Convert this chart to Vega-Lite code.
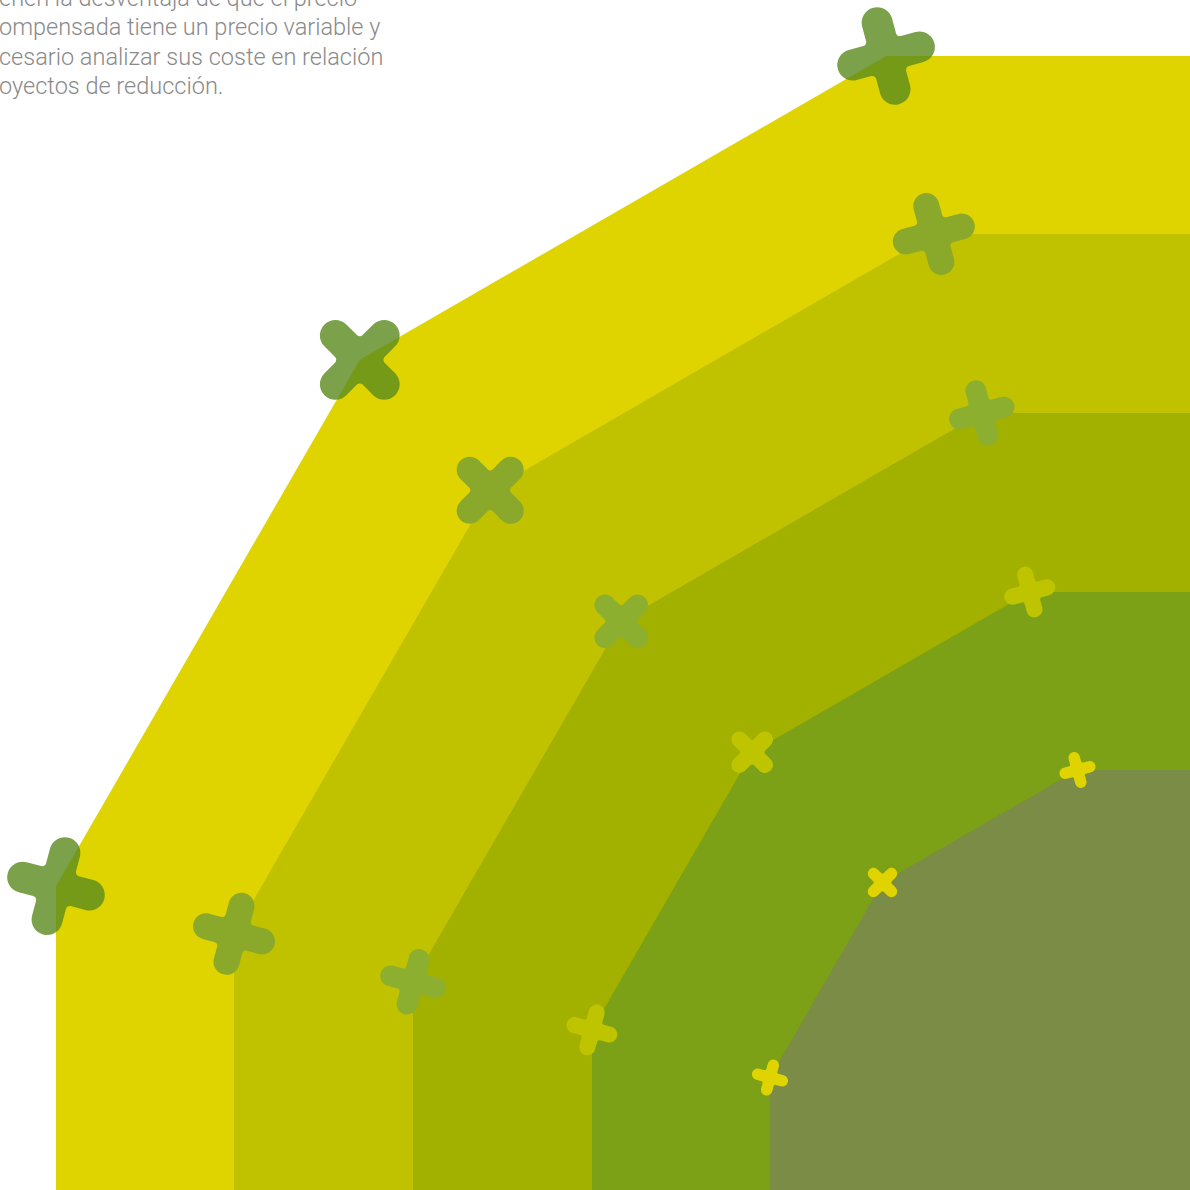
{
  "$schema": "https://vega.github.io/schema/vega-lite/v6.json",
  "width": 1190,
  "height": 1190,
  "autosize": "none",
  "padding": 0,
  "background": "#ffffff",
  "config": {"view": {"stroke": null}},
  "datasets": {
    "bands": [
      {"band": 1, "x": 56, "y": 886.1},
      {"band": 1, "x": 359.8, "y": 359.8},
      {"band": 1, "x": 886.1, "y": 56},
      {"band": 1, "x": 1190, "y": 56},
      {"band": 2, "x": 234, "y": 933.8},
      {"band": 2, "x": 490.2, "y": 490.2},
      {"band": 2, "x": 933.8, "y": 234},
      {"band": 2, "x": 1190, "y": 234},
      {"band": 3, "x": 413, "y": 981.8},
      {"band": 3, "x": 621.2, "y": 621.2},
      {"band": 3, "x": 981.8, "y": 413},
      {"band": 3, "x": 1190, "y": 413},
      {"band": 4, "x": 592, "y": 1029.8},
      {"band": 4, "x": 752.2, "y": 752.2},
      {"band": 4, "x": 1029.8, "y": 592},
      {"band": 4, "x": 1190, "y": 592},
      {"band": 5, "x": 770, "y": 1077.5},
      {"band": 5, "x": 882.5, "y": 882.5},
      {"band": 5, "x": 1077.5, "y": 770},
      {"band": 5, "x": 1190, "y": 770}
    ],
    "crosses": [
      {"band": 1, "vertex": 1, "x": 56, "y": 886.1},
      {"band": 1, "vertex": 2, "x": 359.8, "y": 359.8},
      {"band": 1, "vertex": 3, "x": 886.1, "y": 56},
      {"band": 2, "vertex": 1, "x": 234, "y": 933.8},
      {"band": 2, "vertex": 2, "x": 490.2, "y": 490.2},
      {"band": 2, "vertex": 3, "x": 933.8, "y": 234},
      {"band": 3, "vertex": 1, "x": 413, "y": 981.8},
      {"band": 3, "vertex": 2, "x": 621.2, "y": 621.2},
      {"band": 3, "vertex": 3, "x": 981.8, "y": 413},
      {"band": 4, "vertex": 1, "x": 592, "y": 1029.8},
      {"band": 4, "vertex": 2, "x": 752.2, "y": 752.2},
      {"band": 4, "vertex": 3, "x": 1029.8, "y": 592},
      {"band": 5, "vertex": 1, "x": 770, "y": 1077.5},
      {"band": 5, "vertex": 2, "x": 882.5, "y": 882.5},
      {"band": 5, "vertex": 3, "x": 1077.5, "y": 770}
    ],
    "note": [
      {"x": -1, "y": 6, "lines": ["enen la desventaja de que el precio", "ompensada tiene un precio variable y", "cesario analizar sus coste en relación", "oyectos de reducción."]}
    ]
  },
  "encoding": {
    "x": {"field": "x", "type": "quantitative", "scale": {"domain": [0, 1190], "nice": false, "zero": false}, "axis": null},
    "y": {"field": "y", "type": "quantitative", "scale": {"domain": [0, 1190], "nice": false, "zero": false, "reverse": true}, "axis": null}
  },
  "layer": [
    {
      "data": {"name": "bands"},
      "transform": [{"filter": "datum.band == 1"}],
      "mark": {"type": "area", "color": "#E0D400"},
      "encoding": {"y2": {"datum": 1190}}
    },
    {
      "data": {"name": "bands"},
      "transform": [{"filter": "datum.band == 2"}],
      "mark": {"type": "area", "color": "#C0C200"},
      "encoding": {"y2": {"datum": 1190}}
    },
    {
      "data": {"name": "bands"},
      "transform": [{"filter": "datum.band == 3"}],
      "mark": {"type": "area", "color": "#A2B000"},
      "encoding": {"y2": {"datum": 1190}}
    },
    {
      "data": {"name": "bands"},
      "transform": [{"filter": "datum.band == 4"}],
      "mark": {"type": "area", "color": "#7CA016"},
      "encoding": {"y2": {"datum": 1190}}
    },
    {
      "data": {"name": "bands"},
      "transform": [{"filter": "datum.band == 5"}],
      "mark": {"type": "area", "color": "#7A8C45"},
      "encoding": {"y2": {"datum": 1190}}
    },
    {
      "data": {"name": "crosses"},
      "mark": {
        "type": "point",
        "filled": true,
        "strokeWidth": 0,
        "shape": "M0.39,-0.31L0.69,-0.31A0.31,0.31 0 0 1 0.69,0.31L0.39,0.31A0.08,0.08 0 0 0 0.31,0.39L0.31,0.69A0.31,0.31 0 0 1 -0.31,0.69L-0.31,0.39A0.08,0.08 0 0 0 -0.39,0.31L-0.69,0.31A0.31,0.31 0 0 1 -0.69,-0.31L-0.39,-0.31A0.08,0.08 0 0 0 -0.31,-0.39L-0.31,-0.69A0.31,0.31 0 0 1 0.31,-0.69L0.31,-0.39A0.08,0.08 0 0 0 0.39,-0.31Z"
      },
      "encoding": {
        "fill": {"field": "band", "type": "ordinal", "scale": {"type": "ordinal", "domain": [1, 2, 3, 4, 5], "range": ["#5A8B1D", "#8AA82A", "#8DAF30", "#BEC400", "#E0D400"]}, "legend": null},
        "opacity": {"field": "band", "type": "ordinal", "scale": {"type": "ordinal", "domain": [1, 2, 3, 4, 5], "range": [0.8, 1, 1, 1, 1]}, "legend": null},
        "size": {"field": "band", "type": "ordinal", "scale": {"type": "ordinal", "domain": [1, 2, 3, 4, 5], "range": [10000, 7056, 4489, 2704, 1369]}, "legend": null},
        "angle": {"field": "vertex", "type": "quantitative", "scale": {"domain": [1, 3], "range": [15, 75]}, "legend": null}
      }
    },
    {
      "data": {"name": "note"},
      "mark": {"type": "text", "align": "left", "baseline": "alphabetic", "font": "Roboto", "fontWeight": 300, "fontSize": 23.5, "lineHeight": 29.3, "color": "#8a8a8a"},
      "encoding": {"text": {"field": "lines", "type": "nominal"}}
    }
  ]
}
